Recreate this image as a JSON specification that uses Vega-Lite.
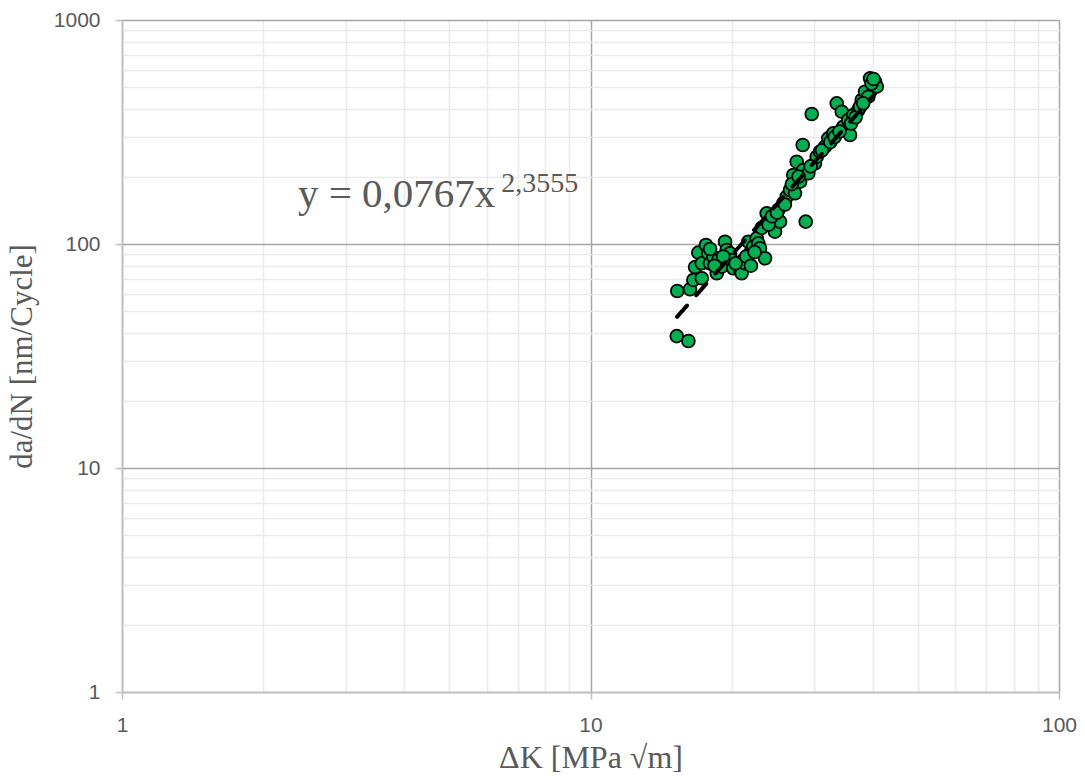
{
  "$schema": "https://vega.github.io/schema/vega-lite/v6.json",
  "width": 937,
  "height": 672,
  "autosize": {"type": "none"},
  "padding": {"left": 122, "top": 20, "right": 26, "bottom": 90},
  "background": "white",
  "config": {"view": {"stroke": null}},
  "datasets": {
    "points": [
      {"dk": 15.32, "dadn": 61.7}, {"dk": 15.28, "dadn": 38.8}, {"dk": 16.18, "dadn": 36.9},
      {"dk": 16.31, "dadn": 62.8}, {"dk": 16.58, "dadn": 69.1}, {"dk": 16.72, "dadn": 78.9},
      {"dk": 16.99, "dadn": 91.5}, {"dk": 17.64, "dadn": 99.0}, {"dk": 17.28, "dadn": 82.0},
      {"dk": 17.28, "dadn": 70.3}, {"dk": 17.84, "dadn": 90.9}, {"dk": 17.99, "dadn": 82.0},
      {"dk": 18.29, "dadn": 87.8}, {"dk": 18.60, "dadn": 74.0}, {"dk": 18.74, "dadn": 84.8},
      {"dk": 19.05, "dadn": 79.2}, {"dk": 19.37, "dadn": 102.4}, {"dk": 19.53, "dadn": 94.0},
      {"dk": 19.85, "dadn": 90.9}, {"dk": 20.02, "dadn": 84.8}, {"dk": 20.17, "dadn": 77.9},
      {"dk": 20.85, "dadn": 76.6}, {"dk": 21.02, "dadn": 74.0}, {"dk": 21.19, "dadn": 84.8},
      {"dk": 21.37, "dadn": 82.0}, {"dk": 21.72, "dadn": 102.4}, {"dk": 21.90, "dadn": 90.9},
      {"dk": 22.26, "dadn": 97.3}, {"dk": 22.63, "dadn": 106.0}, {"dk": 22.81, "dadn": 100.7},
      {"dk": 23.00, "dadn": 95.7}, {"dk": 23.58, "dadn": 86.4}, {"dk": 23.77, "dadn": 137.1},
      {"dk": 24.16, "dadn": 128.0}, {"dk": 24.76, "dadn": 113.5}, {"dk": 25.38, "dadn": 125.8},
      {"dk": 25.17, "dadn": 141.8}, {"dk": 25.79, "dadn": 152.0}, {"dk": 26.23, "dadn": 162.6},
      {"dk": 26.66, "dadn": 174.2}, {"dk": 27.32, "dadn": 168.4}, {"dk": 27.10, "dadn": 203.2},
      {"dk": 27.55, "dadn": 233.0}, {"dk": 28.01, "dadn": 189.7}, {"dk": 28.46, "dadn": 214.0},
      {"dk": 28.38, "dadn": 276.7}, {"dk": 28.80, "dadn": 125.8}, {"dk": 29.17, "dadn": 206.8},
      {"dk": 29.66, "dadn": 380.5}, {"dk": 30.15, "dadn": 229.3}, {"dk": 30.40, "dadn": 245.3},
      {"dk": 30.90, "dadn": 258.3}, {"dk": 31.66, "dadn": 271.9}, {"dk": 32.18, "dadn": 296.4},
      {"dk": 32.98, "dadn": 312.0}, {"dk": 33.54, "dadn": 424.7}, {"dk": 34.38, "dadn": 389.6},
      {"dk": 34.64, "dadn": 334.0}, {"dk": 35.51, "dadn": 357.8}, {"dk": 35.81, "dadn": 306.6},
      {"dk": 36.39, "dadn": 376.6}, {"dk": 37.29, "dadn": 396.5}, {"dk": 37.93, "dadn": 439.4},
      {"dk": 38.54, "dadn": 478.6}, {"dk": 39.18, "dadn": 454.6}, {"dk": 39.51, "dadn": 549.1},
      {"dk": 40.49, "dadn": 530.4}, {"dk": 40.83, "dadn": 503.8},
      {"dk": 18.0, "dadn": 95}, {"dk": 18.4, "dadn": 80}, {"dk": 19.2, "dadn": 88},
      {"dk": 20.4, "dadn": 82}, {"dk": 21.5, "dadn": 88}, {"dk": 22.0, "dadn": 80},
      {"dk": 22.4, "dadn": 92}, {"dk": 23.2, "dadn": 118}, {"dk": 24.0, "dadn": 122},
      {"dk": 24.4, "dadn": 133}, {"dk": 25.0, "dadn": 138}, {"dk": 26.0, "dadn": 150},
      {"dk": 26.9, "dadn": 185}, {"dk": 27.8, "dadn": 200}, {"dk": 29.5, "dadn": 222},
      {"dk": 31.2, "dadn": 262}, {"dk": 32.5, "dadn": 285}, {"dk": 33.2, "dadn": 300},
      {"dk": 34.0, "dadn": 318}, {"dk": 36.0, "dadn": 345}, {"dk": 36.8, "dadn": 368},
      {"dk": 37.6, "dadn": 410}, {"dk": 38.2, "dadn": 425}, {"dk": 39.8, "dadn": 520},
      {"dk": 40.2, "dadn": 545}
    ],
    "trend": [
      {"dk": 15.3, "dadn": 47.3},
      {"dk": 40.5, "dadn": 469}
    ],
    "labels": [
      {"label": "y = 0,0767x"}
    ],
    "exponent": [
      {"label": "2,3555"}
    ]
  },
  "resolve": {"axis": {"x": "independent", "y": "independent"}},
  "layer": [
    {
      "data": {"name": "points"},
      "mark": {"type": "point", "shape": "circle", "filled": true, "fill": "#00B050", "stroke": "#000000", "strokeWidth": 1.75, "size": 165, "opacity": 1},
      "encoding": {
        "x": {"field": "dk", "type": "quantitative",
          "scale": {"type": "log", "domain": [1, 100], "nice": false},
          "axis": {"orient": "bottom", "values": [2,3,4,5,6,7,8,9,20,30,40,50,60,70,80,90], "grid": true, "gridColor": "#ebebeb", "gridWidth": 1.5, "labels": false, "ticks": false, "domain": false, "title": null}},
        "y": {"field": "dadn", "type": "quantitative",
          "scale": {"type": "log", "domain": [1, 1000], "nice": false},
          "axis": {"orient": "left", "values": [2,3,4,5,6,7,8,9,20,30,40,50,60,70,80,90,200,300,400,500,600,700,800,900], "grid": true, "gridColor": "#ebebeb", "gridWidth": 1.5, "labels": false, "ticks": false, "domain": false, "title": null}}
      }
    },
    {
      "data": {"name": "trend"},
      "mark": {"type": "line", "color": "#000000", "strokeWidth": 4, "strokeDash": [15, 14], "strokeCap": "round"},
      "encoding": {
        "x": {"field": "dk", "type": "quantitative",
          "axis": {"orient": "bottom", "values": [1, 10, 100], "format": "d", "grid": true, "gridColor": "#a6a6a6", "gridWidth": 1.5,
            "domainColor": "#bfbfbf", "domainWidth": 1.5, "tickColor": "#bfbfbf", "tickWidth": 1.5, "tickSize": 7,
            "labelFont": "Liberation Sans", "labelFontSize": 21, "labelColor": "#595959", "labelPadding": 15, "labelFlush": false, "labelOverlap": false, "labelBound": false,
            "title": "ΔK [MPa √m]", "titleFont": "Liberation Serif", "titleFontSize": 32, "titleFontWeight": "normal", "titleColor": "#595959", "titlePadding": 7}},
        "y": {"field": "dadn", "type": "quantitative",
          "axis": {"orient": "left", "values": [1, 10, 100, 1000], "format": "d", "grid": true, "gridColor": "#a6a6a6", "gridWidth": 1.5,
            "domainColor": "#bfbfbf", "domainWidth": 1.5, "tickColor": "#bfbfbf", "tickWidth": 1.5, "tickSize": 7,
            "labelFont": "Liberation Sans", "labelFontSize": 21, "labelColor": "#595959", "labelPadding": 15, "labelFlush": false, "labelOverlap": false, "labelBound": false,
            "title": "da/dN [nm/Cycle]", "titleFont": "Liberation Serif", "titleFontSize": 31, "titleFontWeight": "normal", "titleColor": "#595959", "titlePadding": 15}}
      }
    },
    {
      "data": {"name": "labels"},
      "mark": {"type": "text", "font": "Liberation Serif", "fontSize": 41, "color": "#595959", "align": "left", "baseline": "alphabetic"},
      "encoding": {
        "text": {"field": "label"},
        "x": {"datum": 2.374, "type": "quantitative", "axis": null},
        "y": {"datum": 146, "type": "quantitative", "axis": null}
      }
    },
    {
      "data": {"name": "exponent"},
      "mark": {"type": "text", "font": "Liberation Serif", "fontSize": 28, "color": "#595959", "align": "left", "baseline": "alphabetic"},
      "encoding": {
        "text": {"field": "label"},
        "x": {"datum": 6.45, "type": "quantitative", "axis": null},
        "y": {"datum": 170, "type": "quantitative", "axis": null}
      }
    }
  ]
}
